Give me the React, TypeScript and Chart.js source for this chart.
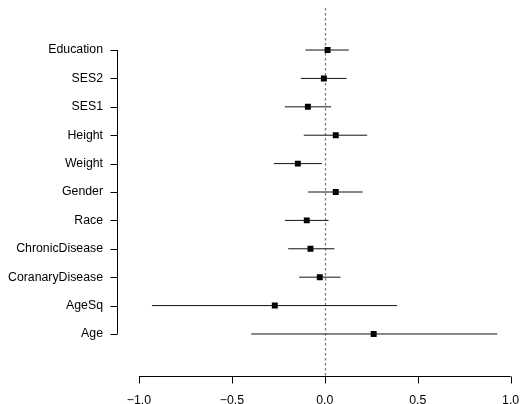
import React, { useEffect, useRef } from "react";
import { Chart, registerables } from "chart.js";

Chart.register(...registerables);

const labels = ["Education", "SES2", "SES1", "Height", "Weight", "Gender", "Race", "ChronicDisease", "CoranaryDisease", "AgeSq", "Age"];
const estimate = [0.015, -0.005, -0.091, 0.059, -0.145, 0.059, -0.097, -0.077, -0.027, -0.269, 0.263];
const lower = [-0.104, -0.129, -0.215, -0.113, -0.274, -0.09, -0.215, -0.197, -0.138, -0.93, -0.396];
const upper = [0.129, 0.117, 0.034, 0.228, -0.016, 0.204, 0.02, 0.052, 0.084, 0.389, 0.928];
const xTicks = [-1, -0.5, 0, 0.5, 1];

const FONT = "'Liberation Sans', Arial, Helvetica, sans-serif";

const noPad = (s: any) => {
  s.paddingTop = 0;
  s.paddingBottom = 0;
  s.paddingLeft = 0;
  s.paddingRight = 0;
};

export default function App() {
  const ref = useRef<HTMLCanvasElement | null>(null);

  useEffect(() => {
    const n = labels.length;
    const yOf = (i: number) => n - i;
    const points = estimate.map((v, i) => ({ x: v, y: yOf(i) }));
    const bars: any[] = [];
    lower.forEach((lo, i) => {
      bars.push({ x: lo, y: yOf(i) });
      bars.push({ x: upper[i], y: yOf(i) });
      bars.push({ x: null, y: null });
    });

    const axesPlugin = {
      id: "rAxes",
      beforeDatasetsDraw(chart: any) {
        const { ctx, chartArea, scales } = chart;
        const xs = scales.x;
        const ys = scales.y;
        ctx.save();
        // zero reference line
        ctx.strokeStyle = "#7a7a7a";
        ctx.lineWidth = 1.3;
        ctx.setLineDash([2.5, 2.5]);
        const x0 = Math.round(xs.getPixelForValue(0)) + 0.5;
        ctx.beginPath();
        ctx.moveTo(x0, chartArea.top);
        ctx.lineTo(x0, chartArea.bottom);
        ctx.stroke();
        ctx.setLineDash([]);
        ctx.strokeStyle = "#000";
        ctx.lineWidth = 1;
        // y axis
        const lx = Math.round(chartArea.left) + 0.5;
        ctx.beginPath();
        ctx.moveTo(lx, ys.getPixelForValue(n));
        ctx.lineTo(lx, ys.getPixelForValue(1));
        for (let i = 0; i < n; i++) {
          const py = Math.round(ys.getPixelForValue(yOf(i))) + 0.5;
          ctx.moveTo(lx, py);
          ctx.lineTo(lx - 7, py);
        }
        ctx.stroke();
        // x axis
        const by = Math.round(chartArea.bottom) + 0.5;
        ctx.beginPath();
        ctx.moveTo(xs.getPixelForValue(xTicks[0]), by);
        ctx.lineTo(xs.getPixelForValue(xTicks[xTicks.length - 1]), by);
        xTicks.forEach((t) => {
          const px = Math.round(xs.getPixelForValue(t)) + 0.5;
          ctx.moveTo(px, by);
          ctx.lineTo(px, by + 7);
        });
        ctx.stroke();
        ctx.restore();
      },
    };

    const chart = new Chart(ref.current as HTMLCanvasElement, {
      type: "scatter",
      data: {
        datasets: [
          {
            type: "line",
            data: bars,
            borderColor: "#111",
            borderWidth: 1,
            pointRadius: 0,
            spanGaps: false,
            fill: false,
          } as any,
          {
            data: points,
            backgroundColor: "#000",
            borderWidth: 0,
            pointStyle: "rect",
            pointRadius: 4.2,
          },
        ],
      },
      options: {
        animation: false,
        responsive: false,
        layout: { padding: { top: 8, left: 0, right: 0, bottom: 0 } },
        plugins: { legend: { display: false }, tooltip: { enabled: false } },
        scales: {
          x: {
            type: "linear",
            min: -1.118,
            max: 1.033,
            grid: { display: false, drawTicks: false },
            border: { display: false },
            afterBuildTicks: (s: any) => {
              s.ticks = xTicks.map((v) => ({ value: v }));
            },
            afterFit: (s: any) => {
              s.height = 28;
              noPad(s);
            },
            ticks: {
              padding: 17,
              maxRotation: 0,
              autoSkip: false,
              color: "#000",
              font: { family: FONT, size: 12.3 },
              callback: (v: any) => {
                const num = Number(v);
                const s = Math.abs(num).toFixed(1);
                return num < 0 ? "\u2212" + s : s;
              },
            },
          },
          y: {
            type: "linear",
            min: -0.48,
            max: 12.48,
            grid: { display: false, drawTicks: false },
            border: { display: false },
            afterBuildTicks: (s: any) => {
              s.ticks = labels.map((_, i) => ({ value: yOf(i) }));
            },
            afterFit: (s: any) => {
              s.width = 117;
              noPad(s);
            },
            ticks: {
              padding: 14,
              autoSkip: false,
              color: "#000",
              font: { family: FONT, size: 12.3 },
              callback: (v: any) => {
                const idx = n - Number(v);
                return labels[idx] ?? "";
              },
            },
          },
        },
      },
      plugins: [axesPlugin],
    });
    return () => chart.destroy();
  }, []);

  return (
    <div style={{ position: "fixed", left: 0, top: 0, width: 521, height: 404, background: "#fff" }}>
      <canvas ref={ref} width={521} height={404} />
    </div>
  );
}
